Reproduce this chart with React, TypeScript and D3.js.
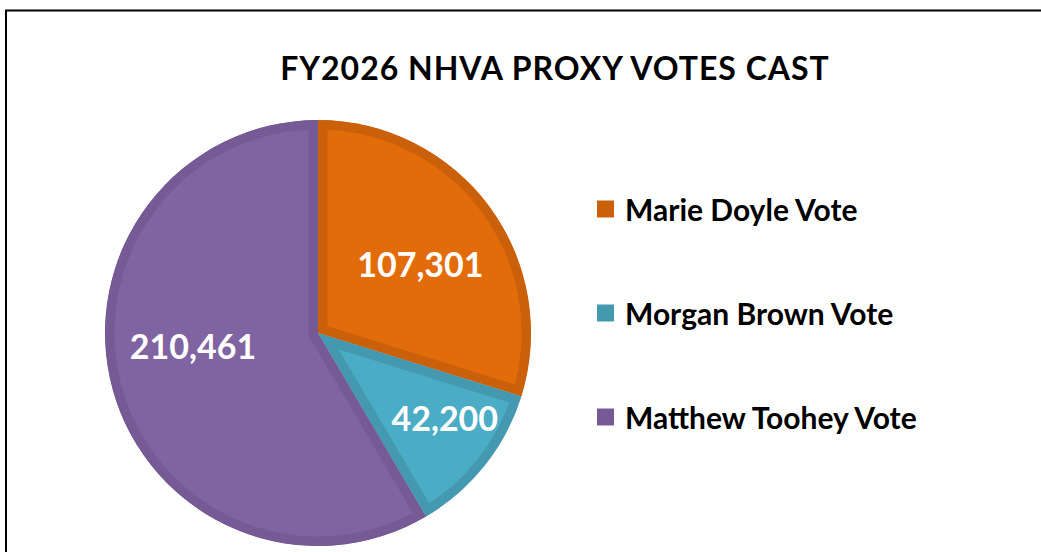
import React from "react";
import * as d3 from "d3";

const categories = ["Marie Doyle Vote", "Morgan Brown Vote", "Matthew Toohey Vote"];
const votes = [107301, 42200, 210461];
const fills = ["#E36C0A", "#4BACC6", "#8064A2"];
const strokes = ["#CB600B", "#4498AF", "#765A96"];
const title = "FY2026 NHVA PROXY VOTES CAST";

const W = 1041;
const H = 552;
const cx = 318;
const cy = 333;
const R = 213;
const FONT = "Lato, 'Open Sans', sans-serif";

export default function App() {
  const pie = d3.pie<number>().sort(null).value((d) => d)(votes);
  const arc = d3.arc<d3.PieArcDatum<number>>().innerRadius(0).outerRadius(R);
  const labelArc = d3.arc<d3.PieArcDatum<number>>().innerRadius(R * 0.55).outerRadius(R * 0.55);
  const fmt = d3.format(",");
  const labelOffsets = [
    [8, 0],
    [35, 12],
    [-12, -18],
  ];
  const legendY = d3.scalePoint<string>().domain(categories).range([209, 417]);

  return (
    <svg width={W} height={H} style={{ position: "absolute", left: 0, top: 0, background: "#fff" }}>
      <defs>
        {pie.map((p, i) => (
          <clipPath id={`clip${i}`} key={i}>
            <path d={arc(p) || ""} />
          </clipPath>
        ))}
      </defs>
      <line x1={5} y1={10.5} x2={W} y2={10.5} stroke="#000" strokeWidth={2} />
      <line x1={6} y1={10} x2={6} y2={H} stroke="#000" strokeWidth={2} />
      <text
        x={555}
        y={80}
        textAnchor="middle"
        fontFamily={FONT}
        fontWeight={700}
        fontSize={32}
        letterSpacing={1}
        fill="#000"
      >
        {title}
      </text>
      <g transform={`translate(${cx},${cy})`}>
        {pie.map((p, i) => (
          <path
            key={i}
            d={arc(p) || ""}
            fill={fills[i]}
            stroke={strokes[i]}
            strokeWidth={19}
            clipPath={`url(#clip${i})`}
          />
        ))}
      </g>
      {pie.map((p, i) => {
        const [x, y] = labelArc.centroid(p);
        return (
          <text
            key={i}
            x={cx + x + labelOffsets[i][0]}
            y={cy + y + labelOffsets[i][1]}
            textAnchor="middle"
            dominantBaseline="central"
            fontFamily={FONT}
            fontWeight={700}
            fontSize={34}
            fill="#fff"
          >
            {fmt(votes[i])}
          </text>
        );
      })}
      {categories.map((c, i) => (
        <g key={c} transform={`translate(597,${legendY(c)})`}>
          <rect x={0} y={-8.5} width={17} height={17} fill={strokes[i]} />
          <text
            x={28}
            y={0}
            dominantBaseline="central"
            fontFamily={FONT}
            fontWeight={700}
            fontSize={30}
            fill="#000"
          >
            {c}
          </text>
        </g>
      ))}
    </svg>
  );
}
